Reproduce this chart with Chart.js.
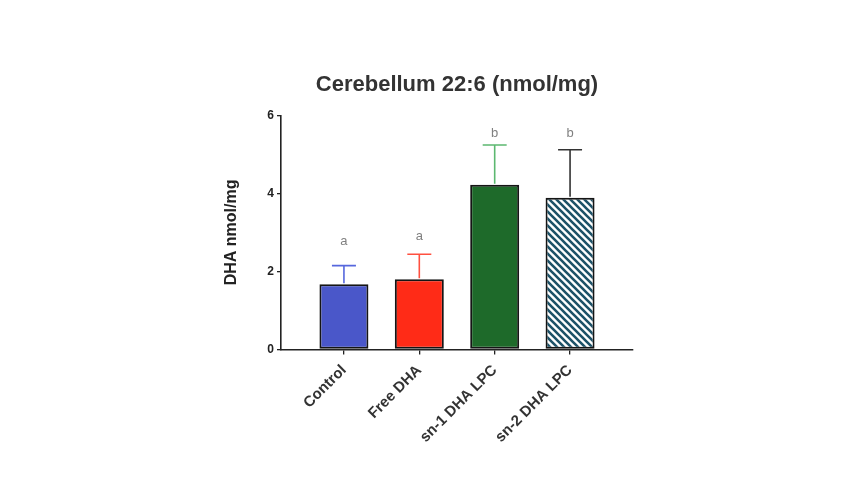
<!DOCTYPE html>
<html><head><meta charset="utf-8">
<script src="https://cdn.jsdelivr.net/npm/chart.js@4"></script>
<style>html,body{margin:0;padding:0;background:#fff}#wrap{width:854px;height:480px}</style>
</head><body><div id="wrap"><canvas id="c"></canvas></div>
<script>
const categories = ['Control', 'Free DHA', 'sn-1 DHA LPC', 'sn-2 DHA LPC'];
const means = [1.67, 1.80, 4.22, 3.89];
const errorUpper = [2.15, 2.44, 5.24, 5.12];
const sigLetters = ['a', 'a', 'b', 'b'];
const sigLetterY = [2.78, 2.90, 5.55, 5.55];
const yTickValues = [0, 2, 4, 6];
const titleText = 'Cerebellum 22:6 (nmol/mg)';
const yTitle = 'DHA nmol/mg';

const canvas = document.getElementById('c');
const ctx = canvas.getContext('2d');

function hatchPattern() {
  const s = 7;
  const t = document.createElement('canvas');
  t.width = s; t.height = s;
  const g = t.getContext('2d');
  g.fillStyle = '#ffffff'; g.fillRect(0, 0, s, s);
  g.strokeStyle = '#1d5268'; g.lineWidth = 2.6;
  g.beginPath();
  g.moveTo(-1, -1); g.lineTo(s + 1, s + 1);
  g.moveTo(-1, s - 1); g.lineTo(1, s + 1);
  g.moveTo(s - 1, -1); g.lineTo(s + 1, 1);
  g.stroke();
  return ctx.createPattern(t, 'repeat');
}

const fills = ['#4a57c9', '#ff2b17', '#1e6a2a', hatchPattern()];
const errColors = ['#5667dd', '#ff5040', '#5cb870', '#333333'];

const errorPlugin = {
  id: 'errs',
  afterDatasetsDraw(chart) {
    const c = chart.ctx, xs = chart.scales.x, ys = chart.scales.y;
    c.save();
    categories.forEach((_, i) => {
      const x = xs.getPixelForValue(i);
      const y0 = ys.getPixelForValue(means[i]);
      const y1 = ys.getPixelForValue(errorUpper[i]);
      c.strokeStyle = errColors[i];
      c.lineWidth = 1.6;
      c.beginPath();
      c.moveTo(x, y0 - 1); c.lineTo(x, y1);
      c.moveTo(x - 12, y1); c.lineTo(x + 12, y1);
      c.stroke();
      c.fillStyle = '#808080';
      c.font = '13px "Liberation Sans", Arial, sans-serif';
      c.textAlign = 'center'; c.textBaseline = 'middle';
      c.fillText(sigLetters[i], x, ys.getPixelForValue(sigLetterY[i]));
    });
    c.restore();
  }
};

new Chart(ctx, {
  type: 'bar',
  data: {
    datasets: [{
      data: categories.map((_, i) => ({ x: i, y: means[i] })),
      backgroundColor: fills,
      borderColor: '#151515',
      borderWidth: 2,
      borderSkipped: false,
      barPercentage: 0.65,
      categoryPercentage: 1.0
    }]
  },
  options: {
    responsive: true,
    maintainAspectRatio: false,
    animation: false,
    devicePixelRatio: 1,
    layout: { padding: { left: 219, right: 221, top: 72, bottom: 0 } },
    plugins: {
      legend: { display: false },
      tooltip: { enabled: false },
      title: {
        display: true, text: titleText, color: '#333333', fullSize: false,
        font: { family: '"Liberation Sans", Arial, sans-serif', size: 22, weight: 'bold' },
        padding: { top: 0, bottom: 17 }
      }
    },
    scales: {
      x: {
        type: 'linear', position: 'bottom',
        min: -0.835, max: 3.835,
        offset: false,
        afterBuildTicks(s) { s.ticks = categories.map((_, i) => ({ value: i })); },
        afterFit(s) { s.height = 130.5; },
        grid: { offset: false, drawOnChartArea: false, drawTicks: true, tickLength: 5, color: '#222', lineWidth: 1.3 },
        border: { display: true, color: '#222', width: 1.6 },
        ticks: {
          autoSkip: false, minRotation: 45, maxRotation: 45, padding: 7,
          color: '#333',
          font: { family: '"Liberation Sans", Arial, sans-serif', size: 15, weight: 'bold' },
          callback: v => categories[v]
        }
      },
      y: {
        min: 0, max: 6,
        afterBuildTicks(s) { s.ticks = yTickValues.map(v => ({ value: v })); },
        afterFit(s) { s.width = 62; },
        grid: { drawOnChartArea: false, drawTicks: true, tickLength: 4, color: '#222', lineWidth: 1.3 },
        border: { display: true, color: '#222', width: 1.6 },
        ticks: {
          padding: 3, color: '#222',
          font: { family: '"Liberation Sans", Arial, sans-serif', size: 12, weight: 'bold' }
        },
        title: {
          display: true, text: yTitle, color: '#222',
          font: { family: '"Liberation Sans", Arial, sans-serif', size: 16, weight: 'bold' },
          padding: 3
        }
      }
    }
  },
  plugins: [errorPlugin]
});
</script>
</body></html>
